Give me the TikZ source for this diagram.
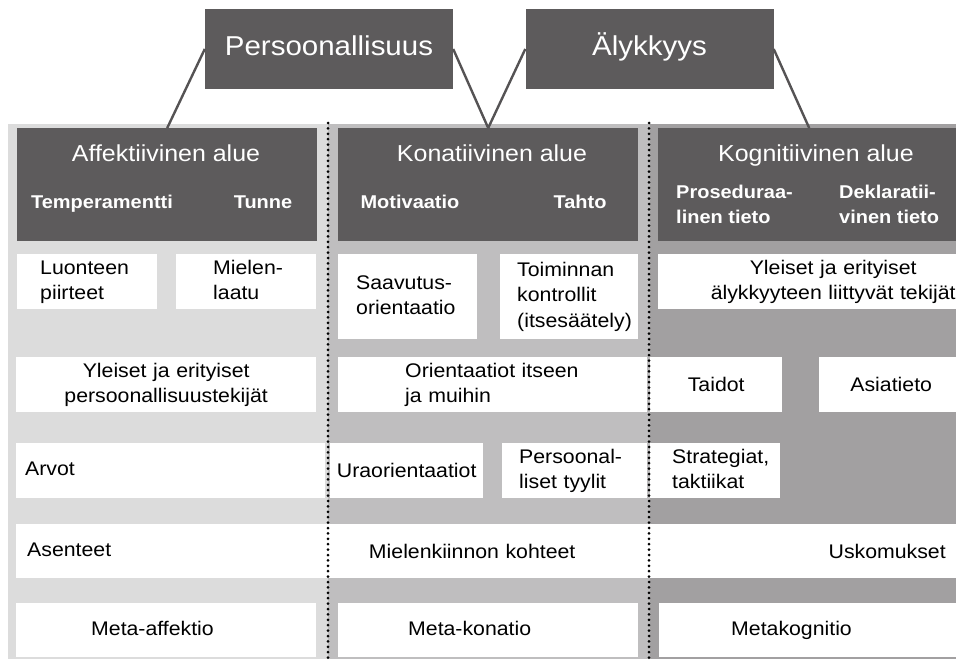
\documentclass[tikz,border=0pt]{standalone}
\usepackage{fontspec}
\setmainfont{Liberation Sans}[FakeStretch=1.08]
\definecolor{hdr}{HTML}{5D5B5C}
\definecolor{bgA}{HTML}{DCDCDC}
\definecolor{bgB}{HTML}{BFBEBF}
\definecolor{bgC}{HTML}{A2A0A1}
\definecolor{lineC}{HTML}{555354}
\newcommand\lbx[2]{\noindent\hspace*{#1pt}\begin{tabular}{@{}l@{}}#2\end{tabular}}
\begin{document}
\begin{tikzpicture}[x=1pt,y=-1pt,
  topbox/.style={fill=hdr, text=white, inner sep=0pt, minimum width=248, minimum height=80,
    font=\fontsize{27.3}{30}\selectfont, text height=20, text depth=6},
  hdrbox/.style={fill=hdr, inner sep=0pt, anchor=north west, minimum height=113},
  htitle/.style={text=white, inner sep=0pt, anchor=base, font=\fontsize{23.1}{26}\selectfont},
  hsub/.style={text=white, inner sep=0pt, anchor=base, font=\bfseries\fontsize{18.5}{25}\selectfont},
  hsubtwo/.style={text=white, inner sep=0pt, anchor=west, align=left, font=\bfseries\fontsize{18.5}{25}\selectfont},
  wbox/.style={fill=white, anchor=north west, inner sep=0pt, font=\fontsize{19.7}{25.5}\selectfont},
  conn/.style={draw=lineC, line width=2.4pt},
  dotsep/.style={draw=black, line width=3pt, line cap=round, dash pattern=on 0pt off 5.4pt},
]
\clip (0,0) rectangle (956,661);
% column backgrounds
\fill[bgA] (8,124) rectangle (328,659);
\fill[bgB] (328,124) rectangle (650,659);
\fill[bgC] (650,124) rectangle (956,659);

% top boxes
\node[topbox] (pers) at (329,49) {Persoonallisuus};
\node[topbox] (aly) at (649.5,49) {Älykkyys};

% headers
\node[hdrbox, minimum width=300] (aff) at (17,128) {};
\node[hdrbox, minimum width=300] (kon) at (338,128) {};
\node[hdrbox, minimum width=302] (kog) at (658,128) {};

% connectors
\draw[conn] (pers.west) -- (aff.north);
\draw[conn] (pers.east) -- (kon.north);
\draw[conn] (aly.west) -- (kon.north);
\draw[conn] (aly.east) -- (kog.north);

% header texts
\node[htitle] (afft) at (166,161) {Affektiivinen alue};
\node[hsub] (affa) at (102,208) {Temperamentti};
\node[hsub] (affb) at (263,208) {Tunne};
\node[htitle] (kont) at (492,161) {Konatiivinen alue};
\node[hsub] (kona) at (410,208) {Motivaatio};
\node[hsub] (konb) at (580,208) {Tahto};
\node[htitle] (kogt) at (816,161) {Kognitiivinen alue};
\node[hsubtwo] (koga) at (676,204.5) {Proseduraa-\\linen tieto};
\node[hsubtwo] (kogb) at (839,204.5) {Deklaratii-\\vinen tieto};

% row 1
\node[wbox, minimum height=55, text width=140] (luo) at (17,254) {\lbx{23}{Luonteen\\piirteet}};
\node[wbox, minimum height=55, text width=140] (mie) at (176,254) {\lbx{37}{Mielen-\\laatu}};
\node[wbox, minimum height=85, text width=139] (saa) at (338,254) {\lbx{18}{Saavutus-\\orientaatio}};
\node[wbox, minimum height=85, text width=138] (toi) at (500,254) {\lbx{17}{Toiminnan\\kontrollit\\(itsesäätely)}};
\node[wbox, minimum height=55, text width=350, align=center] (yle2) at (658,254) {Yleiset ja erityiset\\älykkyyteen liittyvät tekijät};

% row 2
\node[wbox, minimum height=55, text width=300, align=center] (yle1) at (16,357) {Yleiset ja erityiset\\persoonallisuustekijät};
\node[wbox, minimum height=55, text width=309] (ori) at (338,357) {\lbx{67}{Orientaatiot itseen\\ja muihin}};
\node[wbox, minimum height=55, text width=132, align=center] (tai) at (650,357) {Taidot};
\node[wbox, minimum height=55, text width=144, align=center] (asi) at (819,357) {Asiatieto};

% row 3
\node[wbox, minimum height=55, text width=309] (arv) at (16,443) {\lbx{9}{Arvot}};
\node[wbox, minimum height=55, text width=153, align=center] (ura) at (330,443) {Uraorientaatiot};
\node[wbox, minimum height=55, text width=145] (per) at (502,443) {\lbx{17}{Persoonal-\\liset tyylit}};
\node[wbox, minimum height=55, text width=130] (str) at (650,443) {\lbx{22}{Strategiat,\\taktiikat}};

% row 4
\node[wbox, minimum height=54, text width=312] (ase) at (16,524) {\lbx{11}{Asenteet}};
\node[wbox, minimum height=54, text width=292, align=center] (mik) at (326,524) {Mielenkiinnon kohteet};
\node[wbox, minimum height=54, text width=542, align=center] (usk) at (616,524) {Uskomukset};

% row 5
\node[wbox, minimum height=54, text width=300] (maf) at (16,603) {\lbx{75}{Meta-affektio}};
\node[wbox, minimum height=54, text width=300] (mko) at (338,603) {\lbx{70}{Meta-konatio}};
\node[wbox, minimum height=54, text width=350] (mkg) at (659,603) {\lbx{72}{Metakognitio}};

% dotted separators
\coordinate (d1t) at (328,123);
\coordinate (d1b) at (328,661);
\coordinate (d2t) at (649,123);
\coordinate (d2b) at (649,661);
\draw[dotsep] (d1t) -- (d1b);
\draw[dotsep] (d2t) -- (d2b);
\end{tikzpicture}
\end{document}
